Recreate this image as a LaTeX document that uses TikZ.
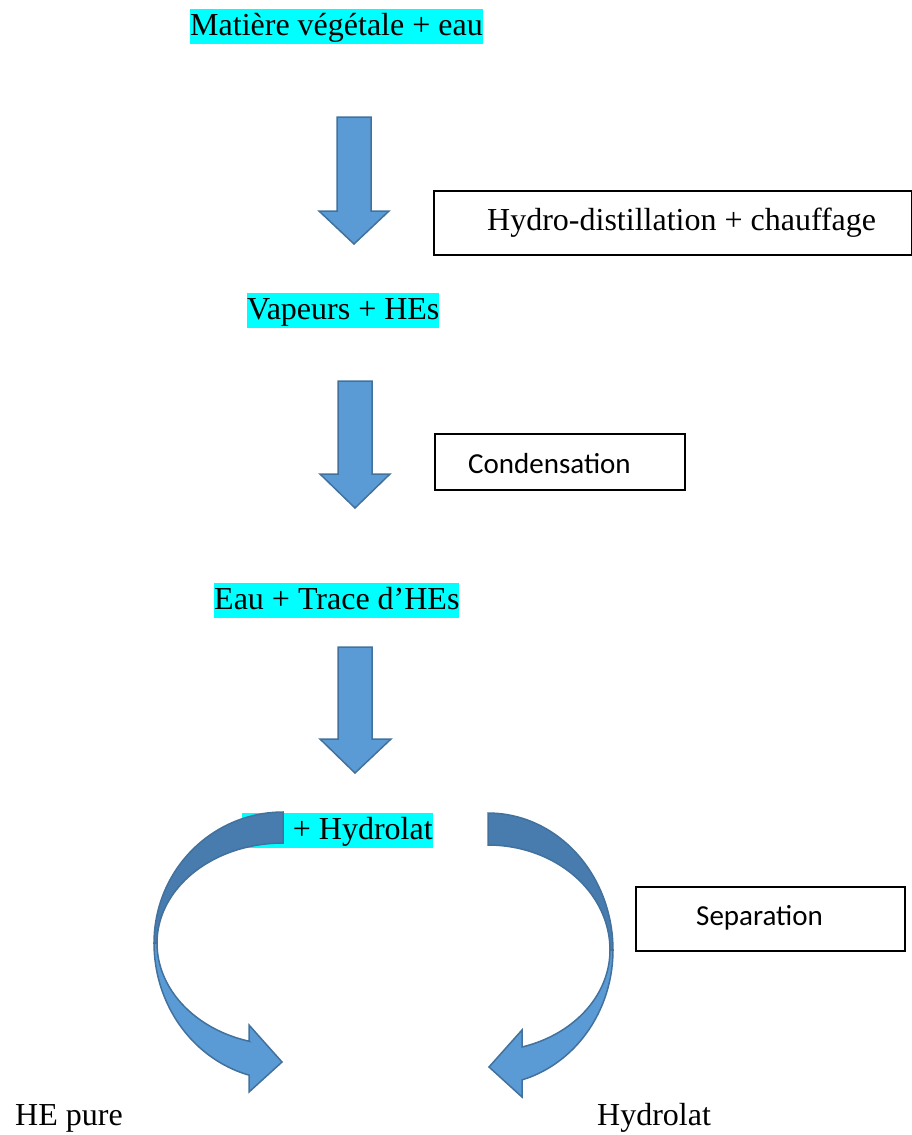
\documentclass[tikz,border=0pt]{standalone}
\usepackage{fontspec}
\setmainfont{Liberation Serif}
\newfontfamily\calib{Carlito}
\definecolor{hl}{HTML}{00FFFF}
\definecolor{blueA}{HTML}{5B9BD5}
\definecolor{blueD}{HTML}{487BAE}
\definecolor{blueS}{HTML}{41719C}
\begin{document}
\begin{tikzpicture}[x=1pt,y=-1pt,
  hlt/.style={fill=hl, inner xsep=0pt, inner ysep=0pt, text height=26pt, text depth=9pt, anchor=base west, font=\fontsize{32}{38}\selectfont},
  plain/.style={inner sep=0pt, anchor=base west, font=\fontsize{32}{38}\selectfont},
  cal/.style={inner sep=0pt, anchor=base west, font=\calib\fontsize{29}{35}\selectfont},
  boxx/.style={draw=black, line width=1.5pt, anchor=north west, inner sep=0pt},
  blk/.style={fill=blueA, draw=blueS, line width=1.5pt, line join=miter},
  blkd/.style={fill=blueD, draw=blueS, line width=1.5pt}]
\useasboundingbox (0,0) rectangle (912,1135);

% text labels
\node[hlt] (m) at (190,35) {Matière végétale + eau};
\node[hlt] (v) at (247,319) {Vapeurs + HEs};
\node[hlt] (e) at (214,609) {Eau + Trace d’HEs};
\node[hlt] (h) at (242,839) {HE + Hydrolat};
\node[plain] (p) at (15,1125) {HE pure};
\node[plain] (hy) at (597,1125) {Hydrolat};

% boxes
\node[boxx, minimum width=478pt, minimum height=64pt] (b1) at (433,190) {};
\node[plain] (t1) at (487,230) {Hydro-distillation + chauffage};
\node[boxx, minimum width=250pt, minimum height=56pt] (b2) at (434,433) {};
\node[cal] (t2) at (468,473) {Condensation};
\node[boxx, minimum width=269pt, minimum height=64pt] (b3) at (635,886) {};
\node[cal] (t3) at (696,925) {Separation};

% straight block arrows
\draw[blk] (337,117) -- (371,117) -- (371,211) -- (389,211) -- (354,244) -- (319,211) -- (337,211) -- cycle;
\draw[blk] (338,381) -- (372,381) -- (372,474) -- (390,474) -- (355,508) -- (320,474) -- (338,474) -- cycle;
\draw[blk] (338,647) -- (372,647) -- (372,739) -- (391,739) -- (355,773) -- (320,739) -- (338,739) -- cycle;

% left curved arrow: dark top half
\draw[blkd] plot[domain=270:180, samples=40, variable=\t] ({283+129*cos(\t)},{943+131*sin(\t)})
  -- plot[domain=180:270, samples=40, variable=\t] ({283+126*cos(\t)},{943+100*sin(\t)}) -- cycle;
% left curved arrow: light bottom half with head
\draw[blk] plot[domain=180:105.28, samples=40, variable=\t] ({283+129*cos(\t)},{943+137*sin(\t)})
  -- (249,1092) -- (282,1062) -- (249,1025) -- (249,1041.2)
  -- plot[domain=105.65:180, samples=40, variable=\t] ({283+126*cos(\t)},{943+102*sin(\t)}) -- cycle;

% right curved arrow: dark top half
\draw[blkd] plot[domain=270:360, samples=40, variable=\t] ({488+125*cos(\t)},{950+137*sin(\t)})
  -- plot[domain=360:270, samples=40, variable=\t] ({488+122*cos(\t)},{950+105*sin(\t)}) -- cycle;
% right curved arrow: light bottom half with head
\draw[blk] plot[domain=0:74.2, samples=40, variable=\t] ({488+125*cos(\t)},{950+135*sin(\t)})
  -- (522,1097) -- (489,1067) -- (522,1030) -- (522,1047)
  -- plot[domain=73.8:0, samples=40, variable=\t] ({488+122*cos(\t)},{950+101*sin(\t)}) -- cycle;
\end{tikzpicture}
\end{document}
